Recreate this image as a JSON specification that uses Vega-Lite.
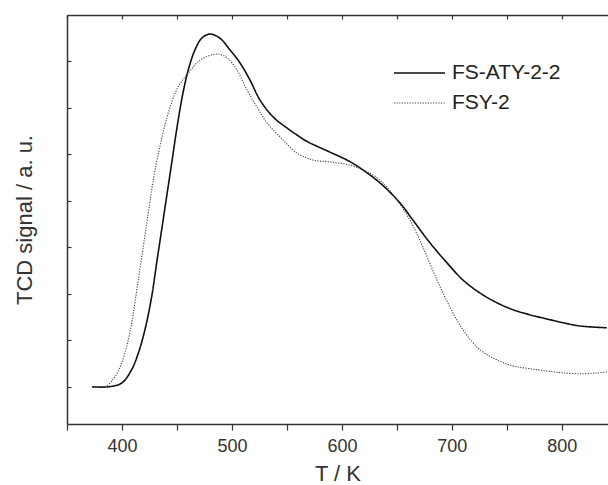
{
  "$schema": "https://vega.github.io/schema/vega-lite/v6.json",
  "width": 541,
  "height": 409,
  "autosize": {"type": "none"},
  "padding": {"left": 67, "top": 15, "right": 0, "bottom": 61},
  "background": "white",
  "config": {
    "view": {"stroke": null},
    "font": "Liberation Sans",
    "axis": {"domainColor": "#333", "domainWidth": 1.5, "tickColor": "#333", "tickWidth": 1.2, "labelColor": "#333", "titleColor": "#333", "grid": false, "labelFont": "Liberation Sans", "titleFont": "Liberation Sans", "titleFontWeight": "normal"}
  },
  "data": {"values": [
    {"T": 372.7, "s": 0, "series": "FS-ATY-2-2"},
    {"T": 387.5, "s": 0, "series": "FS-ATY-2-2"},
    {"T": 399.7, "s": 0.08, "series": "FS-ATY-2-2"},
    {"T": 408.8, "s": 0.37, "series": "FS-ATY-2-2"},
    {"T": 414.8, "s": 0.72, "series": "FS-ATY-2-2"},
    {"T": 420.9, "s": 1.23, "series": "FS-ATY-2-2"},
    {"T": 427.0, "s": 1.94, "series": "FS-ATY-2-2"},
    {"T": 431.5, "s": 2.66, "series": "FS-ATY-2-2"},
    {"T": 436.1, "s": 3.38, "series": "FS-ATY-2-2"},
    {"T": 440.6, "s": 4.09, "series": "FS-ATY-2-2"},
    {"T": 445.2, "s": 4.81, "series": "FS-ATY-2-2"},
    {"T": 449.7, "s": 5.53, "series": "FS-ATY-2-2"},
    {"T": 454.8, "s": 6.24, "series": "FS-ATY-2-2"},
    {"T": 460.3, "s": 6.82, "series": "FS-ATY-2-2"},
    {"T": 466.4, "s": 7.25, "series": "FS-ATY-2-2"},
    {"T": 472.5, "s": 7.5, "series": "FS-ATY-2-2"},
    {"T": 480, "s": 7.59, "series": "FS-ATY-2-2"},
    {"T": 489.1, "s": 7.5, "series": "FS-ATY-2-2"},
    {"T": 498.2, "s": 7.25, "series": "FS-ATY-2-2"},
    {"T": 507.3, "s": 6.97, "series": "FS-ATY-2-2"},
    {"T": 516.4, "s": 6.6, "series": "FS-ATY-2-2"},
    {"T": 525.5, "s": 6.17, "series": "FS-ATY-2-2"},
    {"T": 537.3, "s": 5.81, "series": "FS-ATY-2-2"},
    {"T": 550, "s": 5.57, "series": "FS-ATY-2-2"},
    {"T": 560.9, "s": 5.39, "series": "FS-ATY-2-2"},
    {"T": 568.2, "s": 5.28, "series": "FS-ATY-2-2"},
    {"T": 589.1, "s": 5.05, "series": "FS-ATY-2-2"},
    {"T": 604.5, "s": 4.88, "series": "FS-ATY-2-2"},
    {"T": 616.4, "s": 4.71, "series": "FS-ATY-2-2"},
    {"T": 634.5, "s": 4.39, "series": "FS-ATY-2-2"},
    {"T": 652.7, "s": 3.96, "series": "FS-ATY-2-2"},
    {"T": 664.5, "s": 3.59, "series": "FS-ATY-2-2"},
    {"T": 680, "s": 3.1, "series": "FS-ATY-2-2"},
    {"T": 695.5, "s": 2.67, "series": "FS-ATY-2-2"},
    {"T": 710, "s": 2.3, "series": "FS-ATY-2-2"},
    {"T": 725.5, "s": 2.02, "series": "FS-ATY-2-2"},
    {"T": 740.9, "s": 1.81, "series": "FS-ATY-2-2"},
    {"T": 755.5, "s": 1.66, "series": "FS-ATY-2-2"},
    {"T": 770.9, "s": 1.55, "series": "FS-ATY-2-2"},
    {"T": 786.4, "s": 1.46, "series": "FS-ATY-2-2"},
    {"T": 800.9, "s": 1.38, "series": "FS-ATY-2-2"},
    {"T": 816.4, "s": 1.31, "series": "FS-ATY-2-2"},
    {"T": 840.9, "s": 1.27, "series": "FS-ATY-2-2"},
    {"T": 372.7, "s": 0, "series": "FSY-2"},
    {"T": 384.5, "s": 0, "series": "FSY-2"},
    {"T": 393.6, "s": 0.22, "series": "FSY-2"},
    {"T": 399.7, "s": 0.51, "series": "FSY-2"},
    {"T": 405.7, "s": 1.01, "series": "FSY-2"},
    {"T": 410.3, "s": 1.58, "series": "FSY-2"},
    {"T": 414.8, "s": 2.3, "series": "FSY-2"},
    {"T": 419.4, "s": 3.02, "series": "FSY-2"},
    {"T": 423.9, "s": 3.74, "series": "FSY-2"},
    {"T": 428.5, "s": 4.45, "series": "FSY-2"},
    {"T": 434.5, "s": 5.17, "series": "FSY-2"},
    {"T": 442.1, "s": 5.89, "series": "FSY-2"},
    {"T": 451.2, "s": 6.46, "series": "FSY-2"},
    {"T": 460.3, "s": 6.75, "series": "FSY-2"},
    {"T": 469.4, "s": 7.0, "series": "FSY-2"},
    {"T": 478.5, "s": 7.12, "series": "FSY-2"},
    {"T": 487.5, "s": 7.16, "series": "FSY-2"},
    {"T": 495.5, "s": 7.08, "series": "FSY-2"},
    {"T": 504.5, "s": 6.82, "series": "FSY-2"},
    {"T": 513.6, "s": 6.39, "series": "FSY-2"},
    {"T": 522.7, "s": 6.02, "series": "FSY-2"},
    {"T": 531.8, "s": 5.68, "series": "FSY-2"},
    {"T": 543.6, "s": 5.38, "series": "FSY-2"},
    {"T": 559.1, "s": 5.03, "series": "FSY-2"},
    {"T": 573.6, "s": 4.88, "series": "FSY-2"},
    {"T": 589.1, "s": 4.84, "series": "FSY-2"},
    {"T": 607.3, "s": 4.77, "series": "FSY-2"},
    {"T": 619.1, "s": 4.67, "series": "FSY-2"},
    {"T": 634.5, "s": 4.45, "series": "FSY-2"},
    {"T": 650, "s": 4.02, "series": "FSY-2"},
    {"T": 661.8, "s": 3.59, "series": "FSY-2"},
    {"T": 673.6, "s": 3.01, "series": "FSY-2"},
    {"T": 686.4, "s": 2.3, "series": "FSY-2"},
    {"T": 698.2, "s": 1.72, "series": "FSY-2"},
    {"T": 710, "s": 1.23, "series": "FSY-2"},
    {"T": 725.5, "s": 0.8, "series": "FSY-2"},
    {"T": 740.9, "s": 0.58, "series": "FSY-2"},
    {"T": 755.5, "s": 0.45, "series": "FSY-2"},
    {"T": 770.9, "s": 0.39, "series": "FSY-2"},
    {"T": 786.4, "s": 0.34, "series": "FSY-2"},
    {"T": 800.9, "s": 0.3, "series": "FSY-2"},
    {"T": 819.1, "s": 0.28, "series": "FSY-2"},
    {"T": 831.8, "s": 0.3, "series": "FSY-2"},
    {"T": 840.9, "s": 0.32, "series": "FSY-2"}
  ]},
  "encoding": {
    "y": {"field": "s", "type": "quantitative", "scale": {"domain": [-0.8, 8], "nice": false, "zero": false},
      "axis": {"title": "TCD signal / a. u.", "titleFontSize": 22, "titlePadding": 30, "labels": false, "tickSize": -4, "values": [0, 1, 2, 3, 4, 5, 6, 7]}}
  },
  "layer": [
    {
      "mark": {"type": "line", "interpolate": "catmull-rom", "clip": true},
      "encoding": {
        "x": {"field": "T", "type": "quantitative", "scale": {"domain": [350, 842], "nice": false, "zero": false},
          "axis": {"orient": "bottom", "title": "T / K", "titleFontSize": 22, "titlePadding": 8, "labelFontSize": 18, "labelPadding": 7, "tickSize": 6,
            "values": [350, 400, 450, 500, 550, 600, 650, 700, 750, 800],
            "labelExpr": "datum.value % 100 === 0 ? datum.label : ''",
            "encode": {"ticks": {"update": {"y2": {"signal": "datum.value % 100 === 0 ? 7 : 4"}}}}}},
        "color": {"field": "series", "type": "nominal", "scale": {"domain": ["FS-ATY-2-2", "FSY-2"], "range": ["#111111", "#444444"]},
          "legend": {"orient": "none", "legendX": 326, "legendY": 44, "padding": 0, "title": null, "symbolType": "stroke", "symbolSize": 2601, "clipHeight": 28, "labelOffset": 6, "labelFontSize": 21, "labelColor": "#222", "labelFont": "Liberation Sans", "symbolStrokeWidth": 1.2}},
        "strokeDash": {"field": "series", "type": "nominal", "scale": {"domain": ["FS-ATY-2-2", "FSY-2"], "range": [[1, 0], [1.2, 1.4]]}},
        "strokeWidth": {"field": "series", "type": "nominal", "scale": {"domain": ["FS-ATY-2-2", "FSY-2"], "range": [1.6, 1.1]}, "legend": null}
      }
    },
    {
      "mark": {"type": "line", "opacity": 0},
      "encoding": {
        "x": {"field": "T", "type": "quantitative",
          "axis": {"orient": "top", "title": null, "labels": false, "tickSize": -4, "values": [350, 400, 450, 500, 550, 600, 650, 700, 750, 800]}},
        "detail": {"field": "series"}
      }
    }
  ],
  "resolve": {"axis": {"x": "independent"}}
}
